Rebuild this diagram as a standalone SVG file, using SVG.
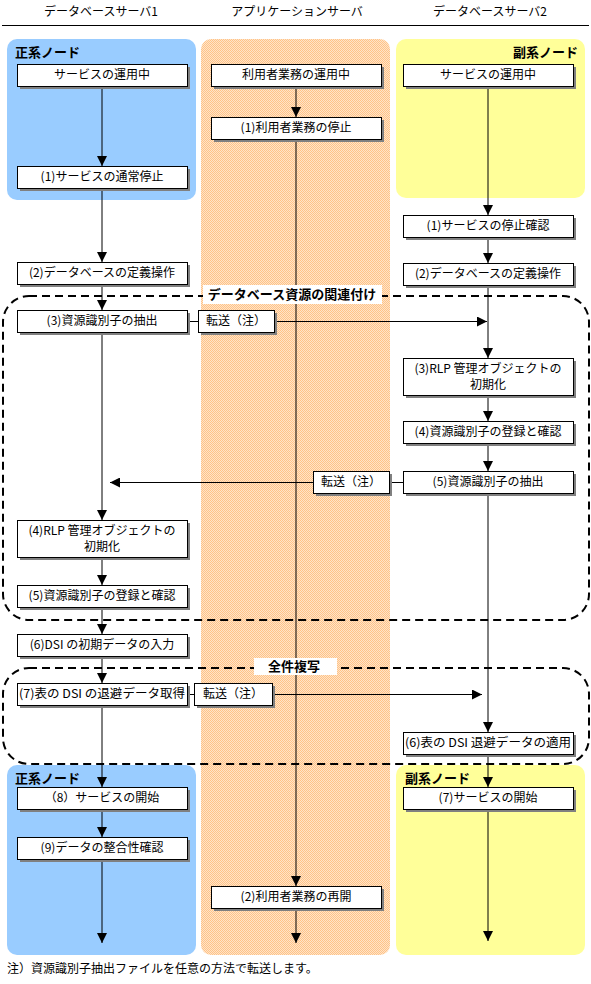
<svg xmlns="http://www.w3.org/2000/svg" width="591" height="984" viewBox="0 0 591 984">
<style>
text{font-family:"Noto Sans CJK JP","Noto Sans",sans-serif;fill:#000}
.hd{font-size:12px;text-anchor:middle}
.t{font-size:12px;text-anchor:middle}
.lb{font-size:13px;font-weight:bold}
.ft{font-size:12px}
.box{fill:#fff;stroke:#000;stroke-width:1}
.sh{fill:#808080}
.ln{stroke:#000;stroke-width:1;fill:none}
.dash{stroke:#000;stroke-width:2;fill:none;stroke-dasharray:8 5}
</style>
<defs>
<pattern id="dot" width="2" height="2" patternUnits="userSpaceOnUse">
<rect width="2" height="2" fill="#FFE4C8"/>
<rect width="1" height="1" fill="#FFC388"/>
<rect x="1" y="1" width="1" height="1" fill="#FFC388"/>
</pattern>
<marker id="ah" markerWidth="10" markerHeight="10" refX="10" refY="5" orient="auto" markerUnits="userSpaceOnUse">
<path d="M0,0 L10,5 L0,10 z" fill="#000"/>
</marker>
</defs>

<g id="header">
<text class="hd" x="101" y="16">データベースサーバ1</text>
<text class="hd" x="297" y="16">アプリケーションサーバ</text>
<text class="hd" x="490" y="16">データベースサーバ2</text>
<line x1="2" y1="25.5" x2="589" y2="25.5" stroke="#000" stroke-width="1"/>
</g>

<g id="panels">
<rect x="7" y="39" width="189" height="161" rx="10" fill="#99CCFF"/>
<rect x="201" y="39" width="189" height="916" rx="10" fill="url(#dot)"/>
<rect x="396" y="39" width="189" height="159" rx="10" fill="#FFFF99"/>
<rect x="7" y="765" width="189" height="190" rx="10" fill="#99CCFF"/>
<rect x="396" y="765" width="189" height="190" rx="10" fill="#FFFF99"/>
<text class="lb" x="15" y="57">正系ノード</text>
<text class="lb" x="578" y="57" text-anchor="end">副系ノード</text>
<text class="lb" x="15" y="783">正系ノード</text>
<text class="lb" x="405" y="783">副系ノード</text>
</g>

<g id="groups">
<rect class="dash" x="3" y="296" width="586" height="324" rx="26"/>
<rect class="dash" x="3" y="668" width="586" height="96" rx="26"/>
</g>

<g id="connectors">
<line class="ln" x1="102" y1="87" x2="102" y2="166" marker-end="url(#ah)"/>
<line class="ln" x1="102" y1="189" x2="102" y2="262" marker-end="url(#ah)"/>
<line class="ln" x1="102" y1="286" x2="102" y2="310" marker-end="url(#ah)"/>
<line class="ln" x1="102" y1="333" x2="102" y2="520" marker-end="url(#ah)"/>
<line class="ln" x1="102" y1="558" x2="102" y2="585" marker-end="url(#ah)"/>
<line class="ln" x1="102" y1="608" x2="102" y2="634" marker-end="url(#ah)"/>
<line class="ln" x1="102" y1="657" x2="102" y2="683" marker-end="url(#ah)"/>
<line class="ln" x1="102" y1="707" x2="102" y2="787" marker-end="url(#ah)"/>
<line class="ln" x1="102" y1="811" x2="102" y2="837" marker-end="url(#ah)"/>
<line class="ln" x1="102" y1="860" x2="102" y2="943" marker-end="url(#ah)"/>

<line class="ln" x1="296" y1="87" x2="296" y2="117" marker-end="url(#ah)"/>
<line class="ln" x1="296" y1="140" x2="296" y2="886" marker-end="url(#ah)"/>
<line class="ln" x1="296" y1="909" x2="296" y2="943" marker-end="url(#ah)"/>

<line class="ln" x1="488" y1="87" x2="488" y2="215" marker-end="url(#ah)"/>
<line class="ln" x1="488" y1="239" x2="488" y2="263" marker-end="url(#ah)"/>
<line class="ln" x1="488" y1="286" x2="488" y2="358" marker-end="url(#ah)"/>
<line class="ln" x1="488" y1="396" x2="488" y2="421" marker-end="url(#ah)"/>
<line class="ln" x1="488" y1="444" x2="488" y2="471" marker-end="url(#ah)"/>
<line class="ln" x1="488" y1="495" x2="488" y2="732" marker-end="url(#ah)"/>
<line class="ln" x1="488" y1="755" x2="488" y2="787" marker-end="url(#ah)"/>
<line class="ln" x1="488" y1="811" x2="488" y2="941" marker-end="url(#ah)"/>

<line class="ln" x1="187" y1="321.5" x2="198" y2="321.5"/>
<line class="ln" x1="274" y1="321.5" x2="487" y2="321.5" marker-end="url(#ah)"/>
<line class="ln" x1="389" y1="482.5" x2="403" y2="482.5"/>
<line class="ln" x1="313" y1="482.5" x2="110" y2="482.5" marker-end="url(#ah)"/>
<line class="ln" x1="187" y1="694.5" x2="194" y2="694.5"/>
<line class="ln" x1="272" y1="694.5" x2="482" y2="694.5" marker-end="url(#ah)"/>
</g>

<g id="group-labels">
<rect x="203" y="285" width="179" height="19" fill="#fff"/>
<text class="lb" x="292" y="299" text-anchor="middle">データベース資源の関連付け</text>
<rect x="254" y="658" width="83" height="17" fill="#fff"/>
<text class="lb" x="294" y="671" text-anchor="middle">全件複写</text>
</g>

<g id="L0"><rect class="sh" x="20" y="67" width="170" height="22"/><rect class="box" x="17.5" y="64.5" width="170" height="22"/><text class="t" x="102" y="79">サービスの運用中</text></g>
<g id="L1"><rect class="sh" x="20" y="169" width="170" height="22"/><rect class="box" x="17.5" y="166.5" width="170" height="22"/><text class="t" x="102" y="181">(1)サービスの通常停止</text></g>
<g id="L2"><rect class="sh" x="20" y="265" width="170" height="22"/><rect class="box" x="17.5" y="262.5" width="170" height="22"/><text class="t" x="102" y="277">(2)データベースの定義操作</text></g>
<g id="L3"><rect class="sh" x="20" y="313" width="170" height="22"/><rect class="box" x="17.5" y="310.5" width="170" height="22"/><text class="t" x="102" y="325">(3)資源識別子の抽出</text></g>
<g id="L4"><rect class="sh" x="20" y="523" width="170" height="37"/><rect class="box" x="17.5" y="520.5" width="170" height="37"/><text class="t" x="102" y="535">(4)RLP 管理オブジェクトの</text><text class="t" x="102" y="551">初期化</text></g>
<g id="L5"><rect class="sh" x="20" y="588" width="170" height="22"/><rect class="box" x="17.5" y="585.5" width="170" height="22"/><text class="t" x="102" y="600">(5)資源識別子の登録と確認</text></g>
<g id="L6"><rect class="sh" x="20" y="637" width="170" height="22"/><rect class="box" x="17.5" y="634.5" width="170" height="22"/><text class="t" x="102" y="649">(6)DSI の初期データの入力</text></g>
<g id="L7"><rect class="sh" x="20" y="686" width="170" height="22"/><rect class="box" x="17.5" y="683.5" width="170" height="22"/><text class="t" x="102" y="698" textLength="166" lengthAdjust="spacingAndGlyphs">(7)表の DSI の退避データ取得</text></g>
<g id="L8"><rect class="sh" x="20" y="790" width="170" height="22"/><rect class="box" x="17.5" y="787.5" width="170" height="22"/><text class="t" x="102" y="802">（8）サービスの開始</text></g>
<g id="L9"><rect class="sh" x="20" y="840" width="170" height="22"/><rect class="box" x="17.5" y="837.5" width="170" height="22"/><text class="t" x="102" y="852">(9)データの整合性確認</text></g>

<g id="M0"><rect class="sh" x="214" y="67" width="170" height="22"/><rect class="box" x="211.5" y="64.5" width="170" height="22"/><text class="t" x="296" y="79">利用者業務の運用中</text></g>
<g id="M1"><rect class="sh" x="214" y="120" width="170" height="22"/><rect class="box" x="211.5" y="117.5" width="170" height="22"/><text class="t" x="296" y="132">(1)利用者業務の停止</text></g>
<g id="M2"><rect class="sh" x="214" y="889" width="170" height="22"/><rect class="box" x="211.5" y="886.5" width="170" height="22"/><text class="t" x="296" y="901">(2)利用者業務の再開</text></g>

<g id="R0"><rect class="sh" x="406" y="67" width="170" height="22"/><rect class="box" x="403.5" y="64.5" width="170" height="22"/><text class="t" x="488" y="79">サービスの運用中</text></g>
<g id="R1"><rect class="sh" x="406" y="218" width="170" height="22"/><rect class="box" x="403.5" y="215.5" width="170" height="22"/><text class="t" x="488" y="230">(1)サービスの停止確認</text></g>
<g id="R2"><rect class="sh" x="406" y="266" width="170" height="22"/><rect class="box" x="403.5" y="263.5" width="170" height="22"/><text class="t" x="488" y="278">(2)データベースの定義操作</text></g>
<g id="R3"><rect class="sh" x="406" y="361" width="170" height="37"/><rect class="box" x="403.5" y="358.5" width="170" height="37"/><text class="t" x="488" y="373">(3)RLP 管理オブジェクトの</text><text class="t" x="488" y="389">初期化</text></g>
<g id="R4"><rect class="sh" x="406" y="424" width="170" height="22"/><rect class="box" x="403.5" y="421.5" width="170" height="22"/><text class="t" x="488" y="436">(4)資源識別子の登録と確認</text></g>
<g id="R5"><rect class="sh" x="406" y="474" width="170" height="22"/><rect class="box" x="403.5" y="471.5" width="170" height="22"/><text class="t" x="488" y="486">(5)資源識別子の抽出</text></g>
<g id="R6"><rect class="sh" x="406" y="735" width="170" height="22"/><rect class="box" x="403.5" y="732.5" width="170" height="22"/><text class="t" x="488" y="747" textLength="166" lengthAdjust="spacingAndGlyphs">(6)表の DSI 退避データの適用</text></g>
<g id="R7"><rect class="sh" x="406" y="790" width="170" height="22"/><rect class="box" x="403.5" y="787.5" width="170" height="22"/><text class="t" x="488" y="802">(7)サービスの開始</text></g>

<g id="T1"><rect class="sh" x="201" y="313" width="76" height="22"/><rect class="box" x="198.5" y="310.5" width="76" height="22"/><text class="t" x="236" y="325">転送（注）</text></g>
<g id="T2"><rect class="sh" x="316" y="474" width="76" height="22"/><rect class="box" x="313.5" y="471.5" width="76" height="22"/><text class="t" x="351" y="486">転送（注）</text></g>
<g id="T3"><rect class="sh" x="197" y="686" width="78" height="22"/><rect class="box" x="194.5" y="683.5" width="78" height="22"/><text class="t" x="233" y="698">転送（注）</text></g>

<text class="ft" x="7" y="973">注）資源識別子抽出ファイルを任意の方法で転送します。</text>
</svg>
